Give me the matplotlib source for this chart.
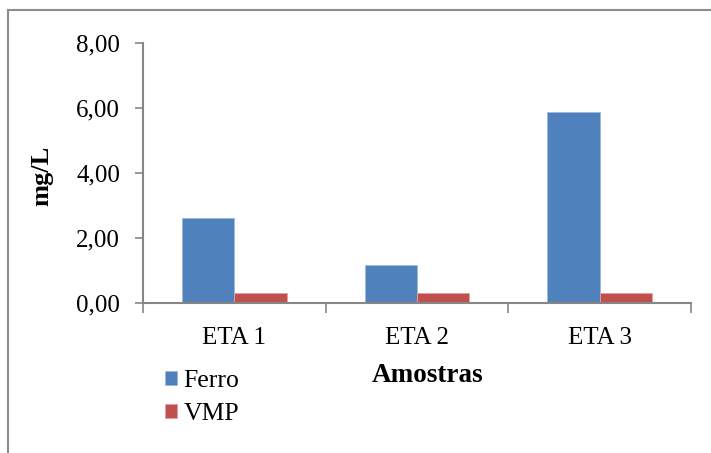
import matplotlib
matplotlib.use("Agg")
import matplotlib.pyplot as plt
from matplotlib.patches import Rectangle
from matplotlib.ticker import FuncFormatter
import numpy as np

plt.rcParams.update({"font.family": "Liberation Serif", "font.size": 18})

categories = ["ETA 1", "ETA 2", "ETA 3"]
ferro = [2.60, 1.16, 5.88]
vmp = [0.30, 0.30, 0.30]
series_names = ["Ferro", "VMP"]
y_ticks = [0, 2, 4, 6, 8]

W, H = 711, 453
fig = plt.figure(figsize=(W / 100, H / 100), dpi=100)
ax = fig.add_axes([143 / W, 1 - 303 / H, (691 - 143) / W, (303 - 43) / H])

x = np.arange(len(categories))
bw = 0.2857
b1 = ax.bar(x - bw / 2, ferro, bw, color="#4F81BD", edgecolor="#9DB9DE", lw=0.6, label=series_names[0])
b2 = ax.bar(x + bw / 2, vmp, bw, color="#C0504D", edgecolor="#E3A09E", lw=0.6, label=series_names[1])

ax.set_xlim(-0.5, len(categories) - 0.5)
ax.set_ylim(0, 8)
ax.set_yticks(y_ticks)
ax.yaxis.set_major_formatter(FuncFormatter(lambda v, p: f"{v:.2f}".replace(".", ",")))
ax.set_xticks(x)
ax.set_xticklabels(categories)
ax.set_xticks(np.arange(len(categories) + 1) - 0.5, minor=True)
ax.tick_params(axis="x", which="major", length=0, pad=17)
ax.tick_params(axis="x", which="minor", length=7, width=1.2, color="#868686")
ax.tick_params(axis="y", length=6, width=1.2, color="#868686", pad=10.5)

for s in ["top", "right"]:
    ax.spines[s].set_visible(False)
for s in ["left", "bottom"]:
    ax.spines[s].set_color("#868686")
    ax.spines[s].set_linewidth(1.5)

fig.text(42 / W, 1 - 176 / H, "mg/L", rotation=90, ha="center", va="center",
         fontsize=19, fontweight="bold")
fig.text(428 / W, 1 - 375 / H, "Amostras", ha="center", va="center",
         fontsize=19.5, fontweight="bold")

fig.legend(handles=[b1, b2], labels=series_names, loc="upper left",
           bbox_to_anchor=(165 / W, 1 - 370 / H), frameon=False,
           handlelength=0.47, handleheight=0.47, handletextpad=0.25,
           labelspacing=0.43, borderpad=0, borderaxespad=0, fontsize=18.5)

fig.patches.append(Rectangle((8 / W, -0.1), 1.2, 1.1 - 10 / H, transform=fig.transFigure,
                             fill=False, edgecolor="#8C8C8C", lw=1.5))

fig.savefig("out.png", dpi=100)
